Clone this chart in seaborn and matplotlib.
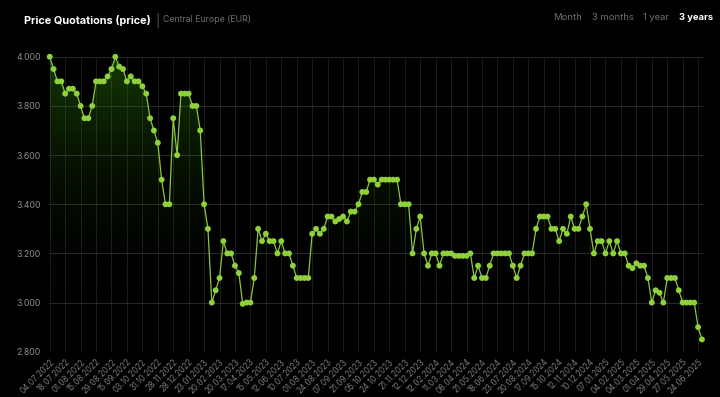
import numpy as np
import pandas as pd
import matplotlib
matplotlib.use("Agg")
import matplotlib.pyplot as plt
import seaborn as sns

# ---- data ----
prices = [
    4.00, 3.95, 3.90, 3.90, 3.85, 3.87, 3.87, 3.85, 3.80, 3.75,
    3.75, 3.80, 3.90, 3.90, 3.90, 3.92, 3.95, 4.00, 3.96, 3.95,
    3.90, 3.92, 3.90, 3.90, 3.88, 3.85, 3.75, 3.70, 3.65, 3.50,
    3.40, 3.40, 3.75, 3.60, 3.85, 3.85, 3.85, 3.80, 3.80, 3.70,
    3.40, 3.30, 3.00, 3.05, 3.10, 3.25, 3.20, 3.20, 3.15, 3.12,
    2.995, 3.00, 3.00, 3.10, 3.30, 3.25, 3.28, 3.25, 3.25, 3.20,
    3.25, 3.20, 3.20, 3.15, 3.10, 3.10, 3.10, 3.10, 3.28, 3.30,
    3.28, 3.30, 3.35, 3.35, 3.33, 3.34, 3.35, 3.33, 3.37, 3.37,
    3.40, 3.45, 3.45, 3.50, 3.50, 3.48, 3.50, 3.50, 3.50, 3.50,
    3.50, 3.40, 3.40, 3.40, 3.20, 3.30, 3.35, 3.20, 3.15, 3.20,
    3.20, 3.15, 3.20, 3.20, 3.20, 3.19, 3.19, 3.19, 3.19, 3.20,
    3.10, 3.15, 3.10, 3.10, 3.15, 3.20, 3.20, 3.20, 3.20, 3.20,
    3.15, 3.10, 3.15, 3.20, 3.20, 3.20, 3.30, 3.35, 3.35, 3.35,
    3.30, 3.30, 3.25, 3.30, 3.28, 3.35, 3.30, 3.30, 3.35, 3.40,
    3.30, 3.20, 3.25, 3.25, 3.20, 3.25, 3.20, 3.25, 3.20, 3.20,
    3.15, 3.14, 3.16, 3.15, 3.15, 3.10, 3.00, 3.05, 3.04, 3.00,
    3.10, 3.10, 3.10, 3.05, 3.00, 3.00, 3.00, 3.00, 2.90, 2.85,
]

tick_labels = [
    "04.07.2022", "18.07.2022", "01.08.2022", "15.08.2022", "29.08.2022",
    "15.09.2022", "03.10.2022", "31.10.2022", "28.11.2022", "28.12.2022",
    "23.01.2023", "20.02.2023", "20.03.2023", "17.04.2023", "15.05.2023",
    "12.06.2023", "10.07.2023", "01.08.2023", "24.08.2023", "07.09.2023",
    "21.09.2023", "05.10.2023", "24.10.2023", "21.11.2023", "12.12.2023",
    "12.02.2024", "11.03.2024", "08.04.2024", "21.05.2024", "18.06.2024",
    "23.07.2024", "20.08.2024", "17.09.2024", "15.10.2024", "12.11.2024",
    "10.12.2024", "07.01.2025", "04.02.2025", "04.03.2025", "01.04.2025",
    "29.04.2025", "27.05.2025", "24.06.2025",
]
tick_step = 4
y_ticks = [2.8, 3.0, 3.2, 3.4, 3.6, 3.8, 4.0]

title = "Price Quotations (price)"
subtitle = "Central Europe (EUR)"
ranges = ["Month", "3 months", "1 year", "3 years"]

# ---- plot ----
sns.set_theme(style="dark")
plt.rcParams["font.family"] = ["Inter", "DejaVu Sans"]

BG = "#000000"
LINE = "#8cc63f"
MARK = "#8fd13a"

df = pd.DataFrame({"i": np.arange(len(prices)), "price": prices})

fig = plt.figure(figsize=(7.2, 3.97), dpi=100, facecolor=BG)
ax = fig.add_axes([0.068, 0.114, 0.908, 0.743])
ax.set_facecolor(BG)

ymin, ymax = 2.8, 4.0
n = len(prices)

# gradient fill under line
poly = ax.fill_between(df["i"], df["price"], ymin, color="none", lw=0)
grad = np.linspace(1, 0, 256).reshape(-1, 1)
rgba = np.zeros((256, 1, 4))
rgba[..., 0] = 0.22
rgba[..., 1] = 0.60
rgba[..., 2] = 0.05
rgba[..., 3] = 0.38 * grad ** 2.5
img = ax.imshow(rgba, aspect="auto", extent=[0, n - 1, ymin, ymax],
                origin="upper", zorder=1)
img.set_clip_path(poly.get_paths()[0], transform=ax.transData)

sns.lineplot(data=df, x="i", y="price", ax=ax, color=LINE, lw=0.9,
             zorder=3)
sns.scatterplot(data=df, x="i", y="price", ax=ax, color=MARK, s=18,
                edgecolor="none", zorder=4, clip_on=False)

ax.set_xlim(-0.2, n - 1 + 0.2)
ax.set_ylim(ymin, ymax)

ax.set_yticks(y_ticks)
ax.set_yticklabels([f"{v:.3f}" for v in y_ticks], color="#8a8a8a",
                   fontsize=6.3)
ticks = np.arange(0, tick_step * len(tick_labels), tick_step)
ax.set_xticks(ticks)
ax.set_xticklabels(tick_labels, rotation=45, ha="right",
                   rotation_mode="anchor", color="#7a7a7a", fontsize=5.8)
ax.tick_params(axis="both", length=3, color="#333333", pad=3)
ax.tick_params(axis="x", length=0, pad=4)

ax.grid(True, axis="y", color="#2a2a2a", lw=0.7)
ax.grid(True, axis="x", color="#1c1c1c", lw=0.7)
ax.set_xlabel("")
ax.set_ylabel("")
for s in ax.spines.values():
    s.set_visible(False)

# header
fig.text(24 / 720, 1 - 20 / 397, title, color="white", fontsize=7.9,
         fontweight="bold", va="center", ha="left")
fig.text(155 / 720, 1 - 20 / 397, "|", color="#555555", fontsize=9,
         va="center", ha="left")
fig.text(163 / 720, 1 - 20 / 397, subtitle, color="#6e6e6e", fontsize=6.3,
         va="center", ha="left")
xs = [553, 592, 643, 679]
for x, r in zip(xs, ranges):
    last = r == ranges[-1]
    fig.text(x / 720, 1 - 17 / 397, r, color="white" if last else "#6e6e6e",
             fontsize=6.8, fontweight="bold" if last else "normal",
             va="center", ha="left")

fig.savefig("out.png", dpi=100, facecolor=BG)
